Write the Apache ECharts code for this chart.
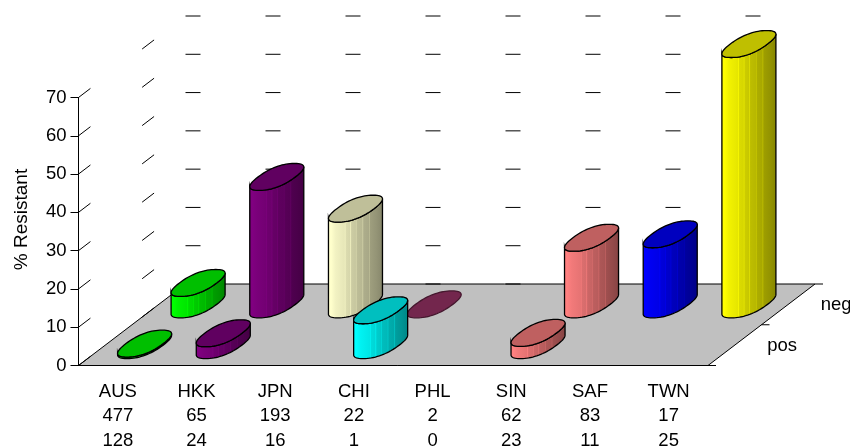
<!DOCTYPE html>
<html>
<head>
<meta charset="utf-8">
<style>html,body{margin:0;padding:0;background:#fff}#c{width:850px;height:447px}</style>
<script src="https://cdn.jsdelivr.net/npm/echarts@6/dist/echarts.min.js"></script>
</head>
<body>
<div id="c"></div>
<script>
// Isolate panel: % resistant by region, split into pos / neg rows.
const categories = ['AUS', 'HKK', 'JPN', 'CHI', 'PHL', 'SIN', 'SAF', 'TWN'];
const countsA = [477, 65, 193, 22, 2, 62, 83, 17];
const countsB = [128, 24, 16, 1, 0, 23, 11, 25];
const rowNames = ['pos', 'neg'];
const posValues = [0.4, 3.1, null, 9.1, null, 3.2, null, null];
const negValues = [5.6, 33.3, 25, 0, null, 17.4, 18.3, 68];
const posColors = ['#00ff00', '#800080', '#ffffcc', '#00ffff', '#993366', '#ff8080', '#0000ff', '#ffff00'];
const negColors = ['#00ff00', '#800080', '#ffffcc', '#993366', '#993366', '#ff8080', '#0000ff', '#ffff00'];
const wallLevels = [0, 10, 20, 30, 40, 50, 60, 70];

// Oblique projection of the floor depth and the cylinder footprint.
const DEPTH_X = 107, DEPTH_Y = 81.5;
const BAR_WIDTH = 0.473;     // share of a category band
const BAR_DEPTH = 0.33;      // half-depth as a share of one row, in floor units
const ROUNDNESS = 0.85;      // exponent below 1 gives a fuller, blunter footprint
const OUTLINE = 1.3;
const TEXT = '#000';
const FONT = 'Liberation Sans, Arial, sans-serif';

// Lighting across a cylinder side, left to right, with the fine facet streaks.
const shading = [
  [0, 1.0], [0.06, 1.0], [0.14, 0.95], [0.3, 0.9], [0.31, 0.97], [0.33, 0.86], [0.4, 0.84],
  [0.41, 0.92], [0.43, 0.8], [0.5, 0.78], [0.51, 0.86], [0.53, 0.74], [0.62, 0.72], [0.63, 0.8],
  [0.65, 0.68], [0.74, 0.66], [0.75, 0.74], [0.77, 0.62], [0.88, 0.58], [1, 0.52]
];

function shade(hex, k) {
  const n = parseInt(hex.slice(1), 16);
  const p = s => Math.round(((n >> s) & 255) * k);
  return 'rgb(' + p(16) + ',' + p(8) + ',' + p(0) + ')';
}

const soft = v => Math.sign(v) * Math.pow(Math.abs(v), ROUNDNESS);

function footprint(cx, cy, w, dx, dy) {
  const pts = [];
  for (let i = 0; i < 72; i++) {
    const t = i / 72 * Math.PI * 2;
    const c = soft(Math.cos(t)), s = soft(Math.sin(t));
    pts.push([cx + w * c + dx * s, cy - dy * s]);
  }
  return pts;
}

function cylinderRenderer(row, colors) {
  const depth = (row + 0.5) / rowNames.length;
  return function (params, api) {
    const idx = api.value(0), val = api.value(1);
    const base = api.coord([idx, 0]), top = api.coord([idx, val]);
    const band = api.size([1, 0])[0];
    const ox = DEPTH_X * depth, oy = DEPTH_Y * depth;
    const half = BAR_DEPTH / rowNames.length;
    const w = band * BAR_WIDTH / 2, dx = DEPTH_X * half, dy = DEPTH_Y * half;
    const color = colors[idx];
    const topPts = footprint(top[0] + ox, top[1] - oy, w, dx, dy);
    const basePts = footprint(base[0] + ox, base[1] - oy, w, dx, dy);

    // Side silhouette: lower half of the base joined to the lower half of the top.
    let l = 0, r = 0;
    topPts.forEach((p, i) => {
      if (p[0] < topPts[l][0]) l = i;
      if (p[0] > topPts[r][0]) r = i;
    });
    const side = [];
    for (let i = l; i !== r; i = (i + 1) % 72) side.push(basePts[i]);
    side.push(basePts[r]);
    for (let i = r; i !== l; i = (i + 71) % 72) side.push(topPts[i]);
    side.push(topPts[l]);

    const children = [];
    if (val > 0) {
      children.push({
        type: 'polygon',
        shape: { points: side },
        style: {
          fill: new echarts.graphic.LinearGradient(0, 0, 1, 0,
            shading.map(s => ({ offset: s[0], color: shade(color, s[1]) }))),
          stroke: '#000', lineWidth: OUTLINE
        }
      });
    }
    children.push({
      type: 'polygon',
      shape: { points: topPts },
      style: { fill: shade(color, 0.75), stroke: val > 0 ? '#000' : shade(color, 0.45), lineWidth: OUTLINE }
    });
    return { type: 'group', children };
  };
}

function renderFloor(params, api) {
  const a = api.coord([0, 0]), b = api.coord([categories.length - 1, 0]);
  const band = api.size([1, 0])[0];
  const x0 = a[0] - band / 2, x1 = b[0] + band / 2, y = a[1];
  const line = (x1a, y1a, x2a, y2a, stroke) => ({
    type: 'line',
    shape: { x1: x1a, y1: y1a, x2: x2a, y2: y2a },
    style: { stroke: stroke, lineWidth: 1 }
  });
  const children = [
    {
      type: 'polygon',
      shape: { points: [[x0, y], [x1, y], [x1 + DEPTH_X, y - DEPTH_Y], [x0 + DEPTH_X, y - DEPTH_Y]] },
      style: { fill: '#c0c0c0' }
    },
    line(x0 + DEPTH_X, y - DEPTH_Y, x1 + DEPTH_X + 8, y - DEPTH_Y, '#000'),
    line(x0, y, x0 + DEPTH_X, y - DEPTH_Y, '#000'),
    line(x0, y, x1 + 8, y, '#000'),
    line(x1, y, x1 + DEPTH_X, y - DEPTH_Y, '#000'),
    line(x1 + DEPTH_X / 2, y - DEPTH_Y / 2, x1 + DEPTH_X / 2 + 8, y - DEPTH_Y / 2, '#000')
  ];
  rowNames.forEach((name, i) => {
    const d = (i + 0.5) / rowNames.length;
    children.push({
      type: 'text',
      style: {
        x: x1 + DEPTH_X * d + 32.5, y: y - DEPTH_Y * d + 1,
        text: name, fill: TEXT, font: '18.5px ' + FONT,
        textAlign: 'left', textVerticalAlign: 'middle'
      }
    });
  });
  return { type: 'group', children };
}

function renderWallLevel(params, api) {
  const p = api.coord([0, api.value(1)]);
  const band = api.size([1, 0])[0];
  const x0 = p[0] - band / 2, y = p[1];
  const x1 = x0 + band * categories.length;
  const dashed = (ax, ay, bx, by) => ({
    type: 'line',
    shape: { x1: ax, y1: ay, x2: bx, y2: by },
    style: { stroke: '#000', lineWidth: 1, lineDash: [15, 65] }
  });
  return {
    type: 'group',
    children: [
      dashed(x0, y, x0 + DEPTH_X, y - DEPTH_Y),
      dashed(x0 + DEPTH_X, y - DEPTH_Y, x1 + DEPTH_X, y - DEPTH_Y)
    ]
  };
}

const points = values => values
  .map((v, i) => [i, v])
  .filter(p => p[1] !== null);

const chart = echarts.init(document.getElementById('c'), null, { renderer: 'canvas' });
chart.setOption({
  animation: false,
  backgroundColor: '#fff',
  grid: { left: 78.5, width: 629.5, top: 97.5, height: 268, outerBoundsMode: 'none' },
  xAxis: {
    type: 'category',
    data: categories,
    axisLine: { lineStyle: { color: '#000', width: 1 } },
    axisTick: { length: 8, lineStyle: { color: '#000' } },
    axisLabel: {
      interval: 0, margin: 14, color: TEXT, fontFamily: FONT, fontSize: 18.5, lineHeight: 24.5,
      formatter: (v, i) => v + '\n' + countsA[i] + '\n' + countsB[i]
    }
  },
  yAxis: {
    type: 'value', min: 0, max: 70, interval: 10,
    name: '% Resistant', nameLocation: 'middle', nameGap: 47,
    nameTextStyle: { color: TEXT, fontFamily: FONT, fontSize: 19, padding: [0, 0, 0, 24] },
    splitLine: { show: false },
    axisLine: { show: true, lineStyle: { color: '#000', width: 1 } },
    axisTick: { show: true, length: 8, lineStyle: { color: '#000' } },
    axisLabel: { margin: 12, color: TEXT, fontFamily: FONT, fontSize: 18.5 }
  },
  series: [
    { type: 'custom', name: 'floor', silent: true, data: [[0, 0]], renderItem: renderFloor },
    { type: 'custom', name: 'walls', silent: true, data: wallLevels.map(v => [0, v]), renderItem: renderWallLevel },
    { type: 'custom', name: rowNames[1], data: points(negValues), renderItem: cylinderRenderer(1, negColors) },
    { type: 'custom', name: rowNames[0], data: points(posValues), renderItem: cylinderRenderer(0, posColors) }
  ]
});
</script>
</body>
</html>
